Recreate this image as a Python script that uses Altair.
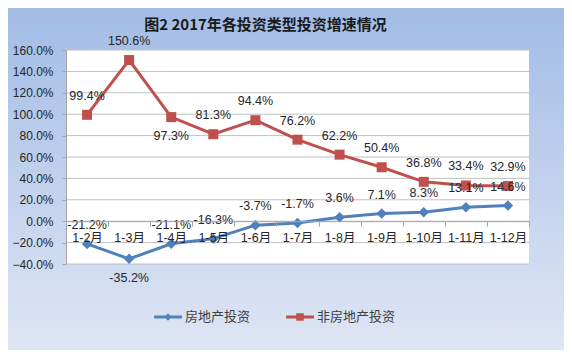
import altair as alt
import pandas as pd

months = ["1-2月", "1-3月", "1-4月", "1-5月", "1-6月", "1-7月",
          "1-8月", "1-9月", "1-10月", "1-11月", "1-12月"]
real_estate = [-21.2, -35.2, -21.1, -16.3, -3.7, -1.7, 3.6, 7.1, 8.3, 13.1, 14.6]
non_real_estate = [99.4, 150.6, 97.3, 81.3, 94.4, 76.2, 62.2, 50.4, 36.8, 33.4, 32.9]
series_names = ["房地产投资", "非房地产投资"]
y_ticks = [-40, -20, 0, 20, 40, 60, 80, 100, 120, 140, 160]
title_text = "图2 2017年各投资类型投资增速情况"

# label placement (which labels sit under their marker)
below_keys = ["房地产投资|1-3月", "非房地产投资|1-4月"]

rows = []
for m, a, b in zip(months, real_estate, non_real_estate):
    rows.append({"month": m, "series": series_names[0], "value": a})
    rows.append({"month": m, "series": series_names[1], "value": b})
df = pd.DataFrame(rows)
df["label"] = df["value"].map(lambda v: f"{v:.1f}%")
df["key"] = df["series"] + "|" + df["month"]

ticks_df = pd.DataFrame({"value": y_ticks})
one = pd.DataFrame({"a": [0]})

W, H = 463, 214
PAD = {"left": 58, "top": 42, "right": 35, "bottom": 86}
colors = ["#4f81bd", "#c0504d"]
shapes = ["diamond", "square"]
sizes = [110, 100]
FONT = "Liberation Sans, Noto Sans CJK SC"
CJK = "Noto Sans CJK SC"

xenc = alt.X("month:N", sort=months,
             scale=alt.Scale(type="band", paddingInner=0, paddingOuter=0),
             axis=alt.Axis(title=None, offset=-0.2 * H, tickBand="extent",
                           labelAngle=0, domainColor="#a6a6a6", tickColor="#a6a6a6",
                           tickSize=5, labelPadding=5, labelFont=FONT, labelFontSize=12.5,
                           labelColor="#262626", grid=False, zindex=1))
yscale = alt.Scale(domain=[-40, 160], nice=False, zero=False)
yenc = alt.Y("value:Q", scale=yscale,
             axis=alt.Axis(title=None, values=y_ticks, grid=False, labelOverlap=False,
                           labelExpr="format(datum.value, '.1f') + '%'",
                           domainColor="#a6a6a6", tickColor="#a6a6a6", tickSize=4,
                           labelPadding=9, labelFont=FONT, labelFontSize=12,
                           labelColor="#262626", zindex=1))

bg = alt.Chart(one).mark_rect(
    color=alt.LinearGradient(
        gradient="linear",
        stops=[alt.GradientStop(color="#a2bce6", offset=0),
               alt.GradientStop(color="#dfe6f4", offset=1)],
        x1=0, x2=0, y1=0, y2=1)
).encode(x=alt.value(-PAD["left"]), x2=alt.value(W + PAD["right"]),
         y=alt.value(-PAD["top"]), y2=alt.value(H + PAD["bottom"]))

plotbg = alt.Chart(one).mark_rect(color="white").encode(
    x=alt.value(0), x2=alt.value(W), y=alt.value(0), y2=alt.value(H))

grid = alt.Chart(ticks_df).mark_rule(color="#c0c0c0", strokeWidth=1).encode(y=yenc)

base = alt.Chart(df)
series_layers = []
for name, col, shp, sz in zip(series_names, colors, shapes, sizes):
    sub = base.transform_filter(alt.datum.series == name)
    series_layers.append(sub.mark_line(strokeWidth=3, color=col).encode(x=xenc, y=yenc))
for name, col, shp, sz in zip(series_names, colors, shapes, sizes):
    sub = base.transform_filter(alt.datum.series == name)
    series_layers.append(sub.mark_point(shape=shp, filled=True, size=sz, opacity=1,
                                        color=col).encode(x=xenc, y=yenc))

below_test = alt.FieldOneOfPredicate(field="key", oneOf=below_keys)
lab_above = base.transform_filter({"not": below_test}).mark_text(
    dy=-19, font=FONT, fontSize=12.5, color="#262626", baseline="middle").encode(
    x=xenc, y=yenc, text="label:N")
lab_below = base.transform_filter(below_test).mark_text(
    dy=19, font=FONT, fontSize=12.5, color="#262626", baseline="middle").encode(
    x=xenc, y=yenc, text="label:N")

path_a = "M-1,-0.1H1V0.1H-1Z M0,-0.26L0.26,0L0,0.26L-0.26,0Z"
path_b = "M-1,-0.1H1V0.1H-1Z M-0.27,-0.27H0.27V0.27H-0.27Z"
leg = alt.Legend(title=None, orient="none", direction="horizontal",
                 legendX=88, legendY=253, symbolSize=784, symbolStrokeWidth=0,
                 symbolOpacity=1, zindex=2,
                 labelFont=CJK, labelFontSize=13, labelColor="#404040",
                 labelOffset=3, columnPadding=35, padding=0)
legend_layer = base.transform_filter("false").mark_point(filled=True).encode(
    fill=alt.Fill("series:N", scale=alt.Scale(domain=series_names, range=colors), legend=leg),
    shape=alt.Shape("series:N", scale=alt.Scale(domain=series_names, range=[path_a, path_b]),
                    legend=leg))

chart = alt.layer(bg, plotbg, grid, *series_layers, lab_above, lab_below, legend_layer).properties(
    width=W, height=H,
    padding=PAD,
    autosize=alt.AutoSizeParams(type="none"),
    title=alt.TitleParams(title_text, font=CJK, fontSize=15, fontWeight="bold",
                          color="#1a1a1a", anchor="middle", frame="group",
                          dx=-32, offset=-25),
).configure_view(stroke=None)

chart.save("out.html", embed_options={"renderer": "svg", "actions": False})
